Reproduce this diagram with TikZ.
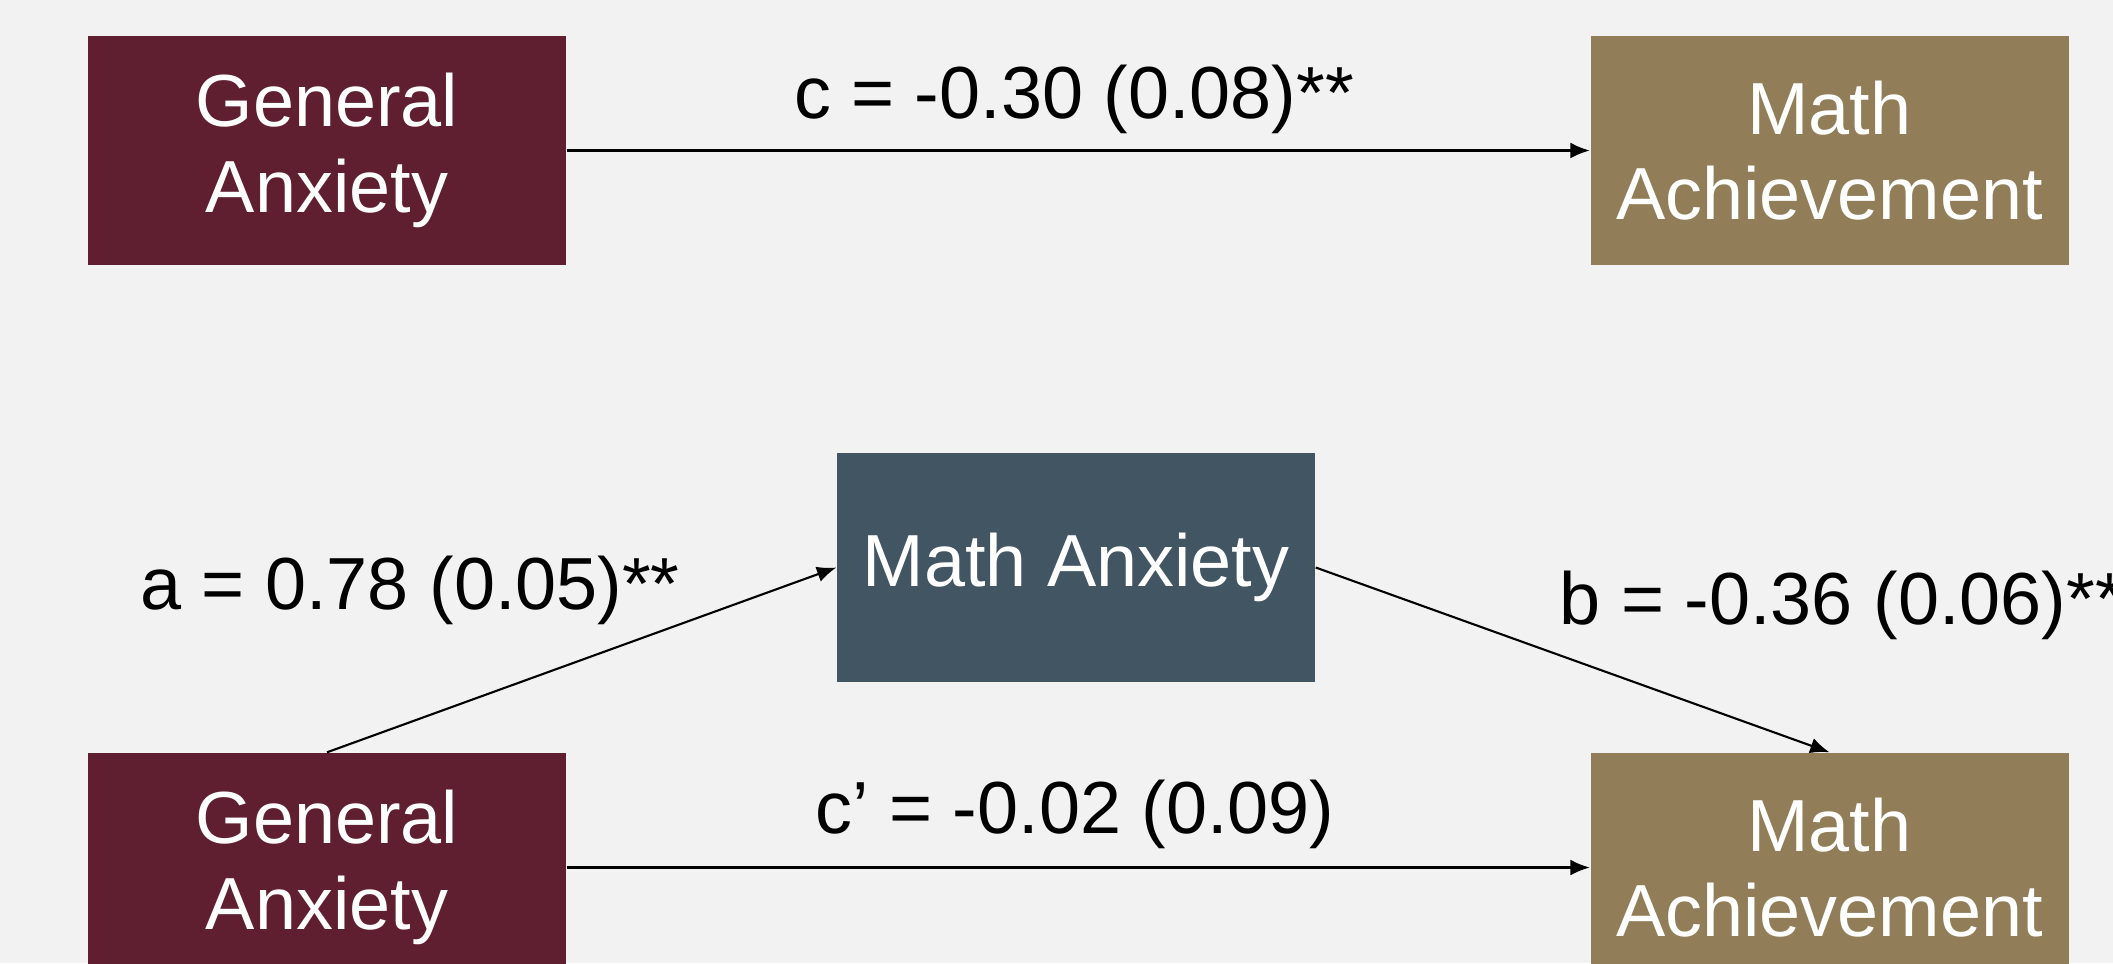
\documentclass[tikz,border=0pt]{standalone}
\usepackage{fontspec}
\setmainfont{Liberation Sans}
\definecolor{wine}{HTML}{601F30}
\definecolor{sand}{HTML}{917E58}
\definecolor{slategrey}{HTML}{425563}
\definecolor{paper}{HTML}{F2F2F2}
\usetikzlibrary{arrows.meta}

\begin{document}
\begin{tikzpicture}[
      arr/.style={-{Latex[length=5.5pt,width=4.5pt]}, line width=0.6pt, black},
      varbox/.style={rectangle, minimum width=4.78cm, minimum height=2.29cm,
                     align=center, text=white, inner sep=0pt,
                     font=\fontsize{21}{24.4}\selectfont},
      coef/.style={inner sep=0pt, font=\fontsize{21}{24.4}\selectfont}
    ]
    \fill[paper] (0,0) rectangle (21.13,-9.63);
    \useasboundingbox (0,0) rectangle (21.13,-9.63);
    \clip (0,0) rectangle (21.13,-9.63);

    % total effect
    \node[varbox, fill=wine] (ga1) at (3.27,-1.505) {General\\Anxiety};
    \node[varbox, fill=sand] (ma1) at (18.295,-1.505) {Math\\Achievement};
    \node[coef, anchor=base] (lc) at (10.74,-1.186) {c = -0.30 (0.08)**};

    % mediation model
    \node[varbox, fill=slategrey] (mx) at (10.76,-5.675) {Math Anxiety};
    \node[varbox, fill=wine] (ga2) at (3.27,-8.675) {General\\Anxiety};
    \node[varbox, fill=sand] (ma2) at (18.295,-8.675) {Math\\Achievement};
    \node[coef, anchor=base] (la) at (4.10,-6.09) {a = 0.78 (0.05)**};
    \node[coef, anchor=base west] (lb) at (15.59,-6.24) {b = -0.36 (0.06)**};
    \node[coef, anchor=base] (lcp) at (10.75,-8.33) {c’ = -0.02 (0.09)};

    \draw[arr] (ga1)--(ma1);
    \draw[arr] (ga2.north)--(mx.west);
    \draw[arr] (mx.east)--(ma2.north);
    \draw[arr] (ga2)--(ma2);
  \end{tikzpicture}
\end{document}
